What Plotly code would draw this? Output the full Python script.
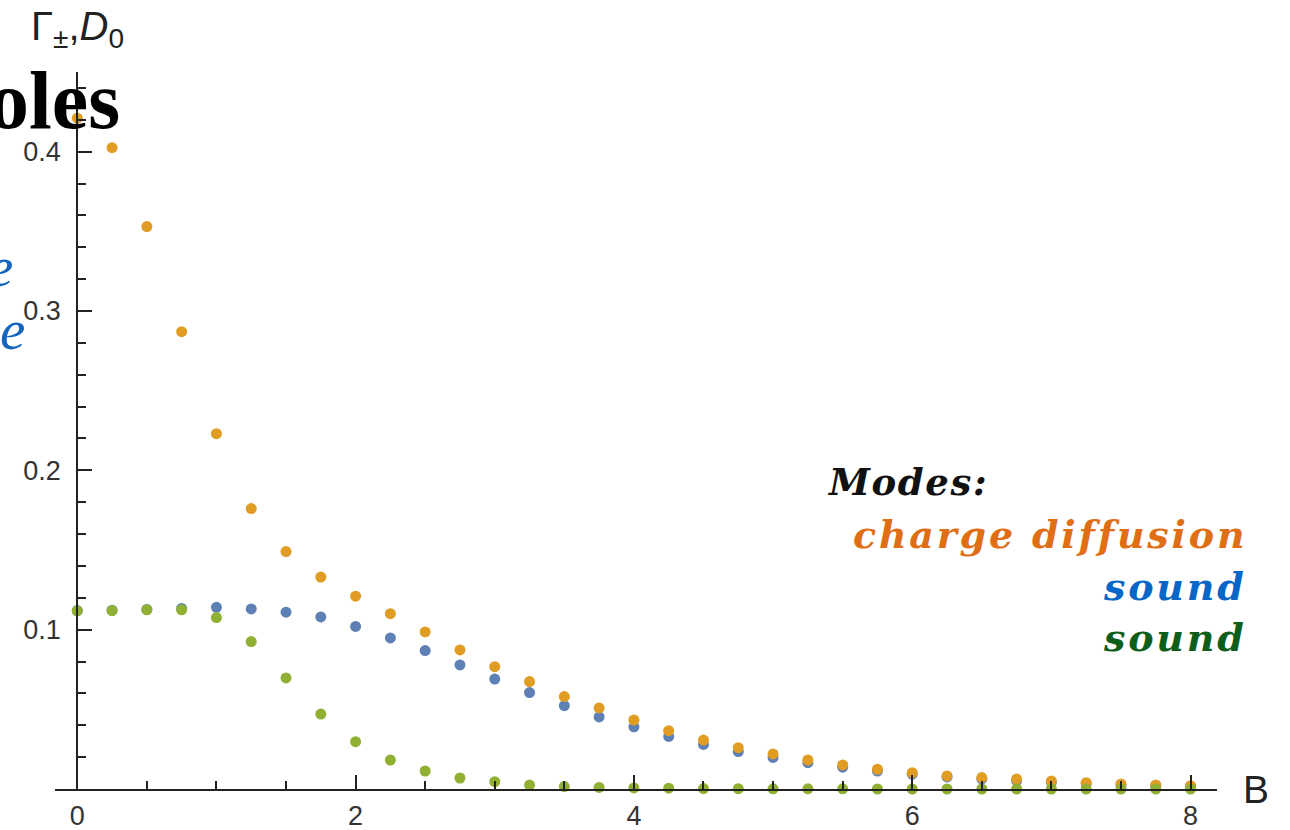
import plotly.graph_objects as go

# Magnetic field values B (sampled every 0.25)
B = [i * 0.25 for i in range(33)]

# Charge diffusion constant D0
charge_diffusion = [0.421, 0.4025, 0.353, 0.287, 0.223, 0.176, 0.149, 0.133, 0.121,
                    0.110, 0.0986, 0.0873, 0.0768, 0.0674, 0.058, 0.0509, 0.0433,
                    0.0366, 0.0307, 0.0259, 0.022, 0.0182, 0.0151, 0.0124, 0.0102,
                    0.0082, 0.0072, 0.0062, 0.005, 0.004, 0.0031, 0.0025, 0.002]

# Sound attenuation, upper branch
sound_plus = [0.112, 0.1122, 0.1127, 0.1133, 0.114, 0.113, 0.111, 0.108, 0.102,
              0.0948, 0.0869, 0.0779, 0.069, 0.0605, 0.0523, 0.0452, 0.039,
              0.033, 0.028, 0.0235, 0.0198, 0.0165, 0.0137, 0.0113, 0.0093,
              0.0076, 0.0063, 0.0052, 0.0042, 0.0034, 0.0027, 0.0022, 0.0018]

# Sound attenuation, lower branch
sound_minus = [0.1118, 0.112, 0.1125, 0.1125, 0.1076, 0.0925, 0.0697, 0.047, 0.0297,
               0.0182, 0.0113, 0.0069, 0.0046, 0.0025, 0.0015, 0.001, 0.0007,
               0.0005, 0.0003, 0.0002, 0.0001, 0.0001, 0.0001, 0.0, 0.0,
               0.0, 0.0, 0.0, 0.0, 0.0, 0.0, 0.0, 0.0]

x_ticks = [0, 2, 4, 6, 8]
y_ticks = [0.1, 0.2, 0.3, 0.4]
y_tick_text = ["0.1", "0.2", "0.3", "0.4"]

W, H = 1290, 830
ML, MR, MT, MB = 55, 73, 72, 41
X_RANGE = [-0.16, 8.19]
Y_RANGE = [0.0, 0.45]

BLUE = "#5E81B5"
ORANGE = "#E19C24"
GREEN = "#8FB032"
AXIS = "#222222"
SANS = "Liberation Sans, Arial, sans-serif"
TICKFONT = dict(family=SANS, size=27, color="#333333")


def px(x, y):
    """Convert page pixels to paper coordinates."""
    return (x - ML) / (W - ML - MR), (H - MB - y) / (H - MT - MB)


fig = go.Figure()
for vals, col in [(sound_plus, BLUE), (charge_diffusion, ORANGE), (sound_minus, GREEN)]:
    fig.add_trace(go.Scatter(x=B, y=vals, mode="markers", cliponaxis=False,
                             marker=dict(color=col, size=11, line=dict(width=0)),
                             showlegend=False, hoverinfo="skip"))

y_axis_pos = (0 - X_RANGE[0]) / (X_RANGE[1] - X_RANGE[0])

fig.update_layout(
    template="none",
    width=W, height=H,
    margin=dict(l=ML, r=MR, t=MT, b=MB, autoexpand=False),
    paper_bgcolor="white", plot_bgcolor="white",
    xaxis=dict(range=X_RANGE, showgrid=False, zeroline=False, automargin=False,
               showline=True, linecolor=AXIS, linewidth=2,
               tickmode="array", tickvals=x_ticks,
               ticks="inside", ticklen=14, tickwidth=2, tickcolor=AXIS,
               minor=dict(dtick=0.5, tick0=0, ticks="inside", ticklen=8,
                          tickwidth=2, tickcolor=AXIS, showgrid=False),
               tickfont=TICKFONT, ticklabelstandoff=2),
    yaxis=dict(range=Y_RANGE, showgrid=False, zeroline=False, automargin=False,
               anchor="free", position=y_axis_pos,
               showline=True, linecolor=AXIS, linewidth=2,
               tickmode="array", tickvals=y_ticks, ticktext=y_tick_text,
               ticks="inside", ticklen=14, tickwidth=2, tickcolor=AXIS,
               minor=dict(dtick=0.02, tick0=0, ticks="inside", ticklen=8,
                          tickwidth=2, tickcolor=AXIS, showgrid=False),
               tickfont=TICKFONT, ticklabelstandoff=10),
)

ann = []
# axis labels
_, ly = px(0, 29)
ann.append(dict(x=0, xref="x", y=ly, yref="paper", xanchor="center", yanchor="middle",
                text="Γ<sub>±</sub>,<i>D</i><sub>0</sub>", showarrow=False,
                font=dict(family=SANS, size=40, color="#222222")))
bx, _ = px(1256, 0)
ann.append(dict(x=bx, xref="paper", y=0, yref="y", xanchor="center", yanchor="middle",
                text="B", showarrow=False,
                font=dict(family=SANS, size=39, color="#222222")))

# mode legend
LEG = "DejaVu Serif, serif"
SPACED = '<span style="letter-spacing:{}px">{}</span>'
mx, my = px(825, 482)
ann.append(dict(x=mx, y=my, xref="paper", yref="paper", xanchor="left", yanchor="middle",
                text="<b><i>" + SPACED.format(1.6, "Modes:") + "</i></b>", showarrow=False,
                font=dict(family=LEG, size=37, color="#111111")))
for txt, col, yy in [("charge diffusion", "#E06E14", 534),
                     ("sound", "#0866C6", 586),
                     ("sound", "#0E5E1B", 637)]:
    tx, ty = px(1249, yy)
    ann.append(dict(x=tx, y=ty, xref="paper", yref="paper", xanchor="right", yanchor="middle",
                    text="<b><i>" + SPACED.format(2.8, txt) + "</i></b>", showarrow=False,
                    font=dict(family=LEG, size=38, color=col)))

# fragments of surrounding slide text at the left edge
ox, oy = px(122, 100)
ann.append(dict(x=ox, y=oy, xref="paper", yref="paper", xanchor="right", yanchor="middle",
                text="<b>oles</b>", showarrow=False,
                font=dict(family="Liberation Serif, serif", size=82, color="black")))
for right, cy in [(15, 266), (27, 329)]:
    ex, ey = px(right, cy)
    ann.append(dict(x=ex, y=ey, xref="paper", yref="paper", xanchor="right", yanchor="middle",
                    text="<i>e</i>", showarrow=False,
                    font=dict(family="Liberation Serif, serif", size=57, color="#1565C0")))

fig.update_layout(annotations=ann)
fig.write_html("out.html")
